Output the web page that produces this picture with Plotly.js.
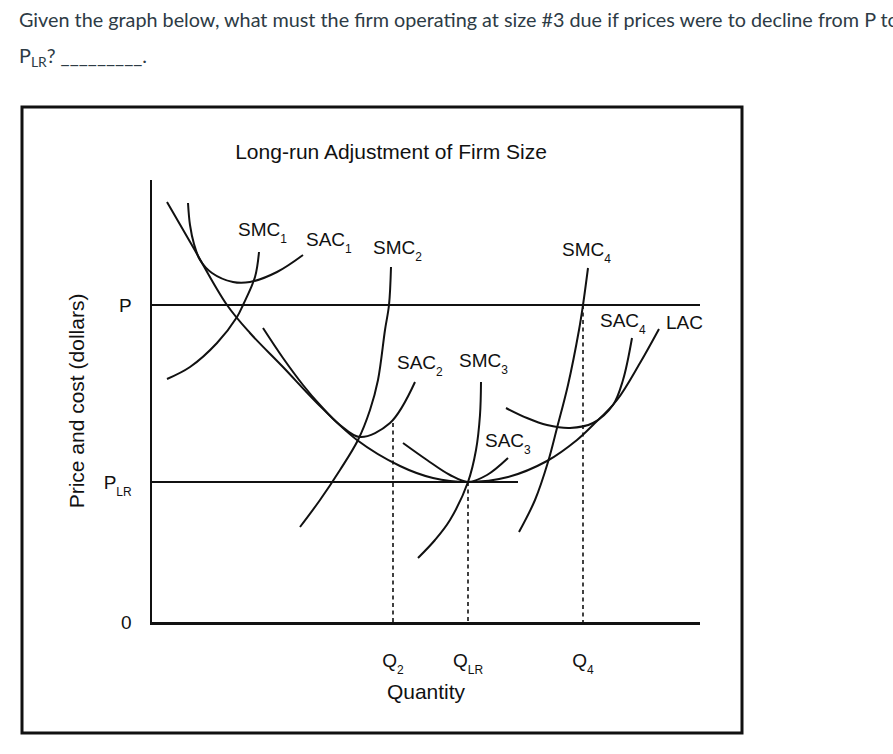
<!DOCTYPE html>
<html>
<head>
<meta charset="utf-8">
<script src="https://cdn.plot.ly/plotly-3.0.1.min.js"></script>
<style>
  html, body { margin: 0; padding: 0; background: #fff; }
  #chart { width: 893px; height: 754px; }
</style>
</head>
<body>
<div id="chart"></div>
<script>
// ---------- data (quantity / cost in arbitrary chart units) ----------
const lacQ  = [15, 41, 75, 98, 131, 165, 205, 248, 281, 316, 356, 395, 425, 441, 465, 488, 507];
const lacC  = [420, 375, 317, 289, 255, 219, 182, 156, 144, 140, 145, 161, 182, 197, 222, 259, 293];

const sac1Q = [36, 38, 42, 48, 60, 81, 98, 125, 151];
const sac1C = [419, 397, 378, 362, 349, 340, 340, 350, 367];
const smc1Q = [15, 38, 65, 85, 91, 103, 107];
const smc1C = [243, 255, 279, 305, 317, 345, 370];

const sac2Q = [111, 131, 151, 168, 188, 208, 238, 263];
const sac2C = [294, 264, 237, 217, 197, 185, 199, 240];
const smc2Q = [148, 168, 188, 206, 218, 226, 233, 237, 239];
const smc2C = [95, 122, 152, 182, 212, 242, 292, 317, 355];

const sac3Q = [251, 275, 298, 316, 335, 356];
const sac3C = [179, 162, 147, 140, 147, 164];
const smc3Q = [266, 283, 298, 316, 324, 328, 329];
const smc3C = [64, 82, 102, 140, 172, 207, 240];

const sac4Q = [354, 375, 395, 418, 441, 461, 471, 480];
const sac4C = [214, 204, 197, 194, 199, 217, 242, 284];
const smc4Q = [367, 383, 396, 405, 416, 427, 431, 436];
const smc4C = [90, 122, 160, 194, 237, 292, 317, 354];

// price levels and quantities
const priceP  = 317;
const priceLR = 140;
const q2  = 241;
const qLR = 316;
const q4  = 431;
const pLineQ   = [0, 548];
const pLRLineQ = [0, 366];
const q2TopC  = 199;          // Q2 dashed line starts at SAC2
const qLRTopC = priceLR;      // QLR dashed line starts at PLR
const q4TopC  = priceP;       // Q4 dashed line starts at P

// subscript helper (smaller, lowered text)
const sub = d => '<span style="font-size:12px;baseline-shift:-7px">' + d + '</span>';

// tick labels
const yTickVals = [priceP, priceLR, 0];
const yTickText = ['P', 'P' + sub('LR'), '0'];
const xTickVals = [q2, qLR, q4];
const xTickText = ['Q' + sub('2'), 'Q' + sub('LR'), 'Q' + sub('4')];

// curve labels
const curveLabels = ['SMC' + sub(1), 'SAC' + sub(1), 'SMC' + sub(2), 'SAC' + sub(2),
                     'SMC' + sub(3), 'SAC' + sub(3), 'SMC' + sub(4), 'SAC' + sub(4), 'LAC'];
const labelQ = [84, 152, 219, 243, 305, 331, 408, 446, 512];
const labelC = [390, 380, 372, 257, 259, 179, 370, 299, 300];

const questionLine1 = 'Given the graph below, what must the firm operating at size #3 due if prices were to decline from P to';
const questionLine2 = 'P<sub>LR</sub>? _________.';

// ---------- drawing ----------
const FONT = 'Liberation Sans, Arial, Helvetica, sans-serif';
const INK = '#111';
const curve = (x, y) => ({x, y, type: 'scatter', mode: 'lines',
  line: {color: INK, width: 2, shape: 'spline', smoothing: 1}, hoverinfo: 'skip'});
const straight = (x, y, w) => ({x, y, type: 'scatter', mode: 'lines',
  line: {color: INK, width: w}, hoverinfo: 'skip'});
const dashed = (x, y) => ({x, y, type: 'scatter', mode: 'lines',
  line: {color: INK, width: 1.6, dash: '4px,3.5px'}, hoverinfo: 'skip'});

const traces = [
  straight(pLineQ, [priceP, priceP], 2.2),
  straight(pLRLineQ, [priceLR, priceLR], 2.2),
  dashed([q2, q2], [q2TopC, 0]),
  dashed([qLR, qLR], [qLRTopC, 0]),
  dashed([q4, q4], [q4TopC, 0]),
  curve(lacQ, lacC),
  curve(sac1Q, sac1C), curve(smc1Q, smc1C),
  curve(sac2Q, sac2C), curve(smc2Q, smc2C),
  curve(sac3Q, sac3C), curve(smc3Q, smc3C),
  curve(sac4Q, sac4C), curve(smc4Q, smc4C)
];

const annotations = curveLabels.map((t, i) => ({
  x: labelQ[i], y: labelC[i], xref: 'x', yref: 'y', text: t, showarrow: false,
  xanchor: 'left', yanchor: 'middle', font: {family: FONT, size: 19, color: INK}
}));

// question text (outside plot area, paper coords)
const W = 893, H = 754, ML = 152, MR = 193, MT = 180, MB = 132;
const pw = W - ML - MR, ph = H - MT - MB;
const px = v => (v - ML) / pw;
const py = v => (H - MB - v) / ph;
annotations.push({x: px(17), y: py(19), xref: 'paper', yref: 'paper', text: questionLine1,
  showarrow: false, xanchor: 'left', yanchor: 'middle',
  font: {family: 'Lato, sans-serif', size: 19.8, color: '#2D3B45'}});
annotations.push({x: px(17), y: py(56), xref: 'paper', yref: 'paper', text: questionLine2,
  showarrow: false, xanchor: 'left', yanchor: 'middle',
  font: {family: 'Lato, sans-serif', size: 19.8, color: '#2D3B45'}});

const layout = {
  width: W, height: H,
  margin: {l: ML, r: MR, t: MT, b: MB, pad: 0},
  paper_bgcolor: '#fff', plot_bgcolor: '#fff',
  showlegend: false,
  font: {family: FONT, size: 19, color: INK},
  title: {text: 'Long-run Adjustment of Firm Size', font: {family: FONT, size: 21, color: INK},
          x: 391 / W, xref: 'container', xanchor: 'center',
          y: 1 - 152 / H, yref: 'container', yanchor: 'middle'},
  xaxis: {range: [0, 548], showgrid: false, zeroline: false, showline: true,
          linewidth: 2.5, linecolor: INK, ticks: '', tickvals: xTickVals, ticktext: xTickText,
          ticklabelstandoff: 20, tickfont: {size: 19},
          title: {text: 'Quantity', font: {size: 21}, standoff: 8}, fixedrange: true},
  yaxis: {range: [0, 442], showgrid: false, zeroline: false, showline: true,
          linewidth: 2.5, linecolor: INK, ticks: '', tickvals: yTickVals, ticktext: yTickText,
          ticklabelstandoff: 14, tickfont: {size: 19},
          title: {text: 'Price and cost (dollars)', font: {size: 21}, standoff: 14}, fixedrange: true},
  annotations: annotations,
  shapes: [{type: 'rect', xref: 'paper', yref: 'paper',
            x0: px(22), x1: px(742), y0: py(733), y1: py(107),
            line: {color: INK, width: 3}}]
};

Plotly.newPlot('chart', traces, layout, {staticPlot: true, displayModeBar: false});
</script>
</body>
</html>
